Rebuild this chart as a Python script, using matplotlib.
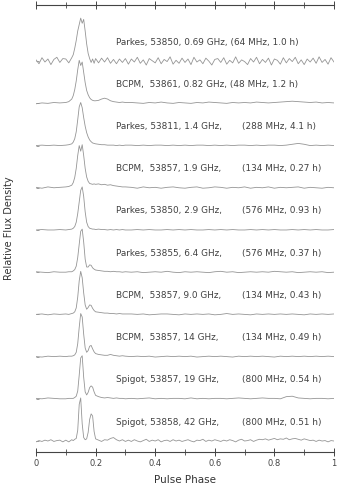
import numpy as np
import matplotlib
matplotlib.use('Agg')
import matplotlib.pyplot as plt

plt.rcParams['font.family'] = 'DejaVu Sans'

# --------------------------------------------------
# data: pulse profiles (percent of peak), top to bottom
# --------------------------------------------------
labels_left = [
    'Parkes, 53850, 0.69 GHz, (64 MHz, 1.0 h)',
    'BCPM,  53861, 0.82 GHz, (48 MHz, 1.2 h)',
    'Parkes, 53811, 1.4 GHz,',
    'BCPM,  53857, 1.9 GHz,',
    'Parkes, 53850, 2.9 GHz,',
    'Parkes, 53855, 6.4 GHz,',
    'BCPM,  53857, 9.0 GHz,',
    'BCPM,  53857, 14 GHz,',
    'Spigot, 53857, 19 GHz,',
    'Spigot, 53858, 42 GHz,',
]
labels_right = [
    '', '',
    '(288 MHz, 4.1 h)',
    '(134 MHz, 0.27 h)',
    '(576 MHz, 0.93 h)',
    '(576 MHz, 0.37 h)',
    '(134 MHz, 0.43 h)',
    '(134 MHz, 0.49 h)',
    '(800 MHz, 0.54 h)',
    '(800 MHz, 0.51 h)',
]

# phase grids
pulse_phase = [0.10, 0.11, 0.12, 0.125, 0.13, 0.135, 0.14, 0.145, 0.15, 0.155,
               0.16, 0.165, 0.17, 0.175, 0.18, 0.185, 0.19, 0.195, 0.20, 0.21,
               0.22, 0.23, 0.24, 0.25, 0.26, 0.27, 0.28, 0.29, 0.30]
fine_left = [0.00, 0.01, 0.02, 0.03, 0.04, 0.05, 0.06, 0.07, 0.08, 0.09]
fine_right = [round(0.31 + 0.01 * i, 2) for i in range(70)]
coarse_left = [0.00, 0.02, 0.04, 0.06, 0.08]
coarse_right = [round(0.32 + 0.02 * i, 2) for i in range(35)]

# 1) Parkes 0.69 GHz (noisy)
p1_left = [3, -6, 8, -2, 5, -8, 4, 9, -3, 6]
p1_pulse = [5, -4, 8, 15, 30, 48, 70, 85, 100, 88, 97, 70, 40, 18, 6, -3, 5, -5, 6, -4,
            7, -2, 8, -5, 4, -6, 5, -3, 6]
p1_right = [-7, 5, -2, 9, -5, 3, -9, 6, 1, -4, 8, -6, 4, -1, 10, -7, 2, -5, 7, -3,
            5, -8, 9, -2, 3, -6, 7, 0, -9, 4, 6, -3, 8, -7, 2, -4, 10, -5, 3, -1,
            -8, 6, -2, 9, -6, 4, -3, 7, -9, 5, 2, -7, 8, -4, 6, -1, 9, -6, 3, -8,
            5, -2, 7, -5, 10, -3, 4, -7, 8, -2]
# 2) BCPM 0.82 GHz
p2_left = [-1, 1, 0, 2, 1]
p2_pulse = [2, 4, 10, 18, 32, 52, 78, 100, 88, 96, 72, 48, 30, 20, 13, 9, 7, 6, 6, 7,
            10, 12, 10, 6, 4, 3, 2, 3, 2]
p2_right = [2, 1, 0, 2, 1, 3, 1, 0, 2, 1, 0, 2, 1, 3, 2, 1, 0, 2, 1, 2,
            1, 3, 2, 1, 2, 3, 4, 5, 4, 3, 2, 3, 1, 2, 1]
# 3) Parkes 1.4 GHz
p3_left = [0, 1, 0, 1, 0]
p3_pulse = [1, 2, 4, 8, 16, 32, 60, 90, 100, 88, 65, 45, 30, 20, 13, 9, 6, 5, 4, 3,
            2, 2, 1, 1, 1, 0, 1, 0, 1]
p3_right = [1, 0, 1, 0, 1, 1, 0, 1, 0, 1, 0, 1, 1, 0, 1, 0, 1, 0, 1, 1,
            0, 1, 0, 1, 1, 0, 1, 3, 5, 3, 0, 1, 0, 1, 0]
# 4) BCPM 1.9 GHz
p4_left = [1, -1, 2, 0, 1]
p4_pulse = [2, 3, 6, 12, 24, 45, 75, 98, 85, 100, 75, 45, 25, 15, 10, 9, 8, 9, 8, 9,
            7, 8, 6, 7, 5, 4, 3, 2, 2]
p4_right = [1, -1, 2, 0, 1, -1, 1, 2, 0, -1, 1, 2, -1, 0, 2, 1, -1, 1, 0, 2,
            -1, 1, 0, 2, -1, 1, 0, 1, 2, -1, 1, 0, -1, 1, 0]
# 5) Parkes 2.9 GHz
p5_left = [0, 1, 0, 0, 1]
p5_pulse = [0, 1, 2, 4, 8, 18, 38, 65, 92, 100, 78, 42, 18, 8, 4, 3, 2, 2, 1, 2,
            1, 1, 0, 1, 0, 1, 0, 1, 0]
p5_right = [0, 1, 0, 1, 0, 0, 1, 0, 1, 0, 1, 0, 0, 1, 0, 1, 0, 1, 0, 0,
            1, 0, 1, 0, 1, 0, 0, 1, 0, 1, 0, 1, 0, 0, 1]
# 6) Parkes 6.4 GHz
p6_left = [1, 0, -1, 1, 0]
p6_pulse = [0, 1, 1, 3, 6, 14, 34, 65, 95, 100, 70, 30, 12, 12, 17, 16, 10, 7, 5, 4,
            3, 2, 2, 1, 2, 1, 1, 0, 1]
p6_right = [0, 1, -1, 0, 1, 0, 2, 0, -1, 1, 0, 1, 0, -1, 1, 2, 0, 1, -1, 0,
            1, 0, 1, 0, 2, 1, 0, 1, -1, 0, 1, 0, 1, -1, 0]
# 7) BCPM 9.0 GHz
p7_left = [0, 1, -1, 1, 0]
p7_pulse = [1, 0, 2, 3, 6, 15, 40, 78, 100, 85, 50, 22, 12, 16, 22, 21, 14, 9, 6, 5,
            4, 3, 3, 2, 2, 1, 2, 1, 1]
p7_right = [1, 0, 1, -1, 0, 1, 1, 0, -1, 1, 0, 1, 0, 1, -1, 0, 2, 0, 1, 0,
            -1, 1, 0, 1, 0, 1, 0, 1, 0, -1, 1, 0, 1, 0, 1]
# 8) BCPM 14 GHz
p8_left = [0, -1, 1, 0, 1]
p8_pulse = [0, 1, 1, 2, 4, 10, 30, 68, 100, 92, 52, 20, 10, 14, 24, 26, 18, 11, 7, 5,
            4, 3, 3, 5, 3, 2, 1, 2, 1]
p8_right = [0, 1, 0, 1, -1, 0, 1, 0, 1, 0, 1, -1, 0, 1, 0, 1, 0, -1, 1, 0,
            1, 0, 1, 0, -1, 1, 0, 1, 0, 1, 0, 1, 0, 1, 0]
# 9) Spigot 19 GHz
p9_left = [1, 0, 2, 1, 0]
p9_pulse = [0, 1, 1, 1, 3, 6, 18, 55, 95, 100, 50, 16, 9, 15, 26, 30, 27, 16, 8, 5,
            3, 2, 3, 2, 1, 2, 1, 1, 0]
p9_right = [1, 0, 1, 2, 0, 1, 0, 1, 1, 0, 2, 0, 1, 0, 1, 1, 0, 1, 2, 1,
            0, 1, 2, 1, 1, 0, 5, 6, 2, 1, 0, 1, 1, 0, 1]
# 10) Spigot 42 GHz (noisy)
p10_left = [-2, 1, -1, 2, 0, 3, -1, 1, 2, -2]
p10_pulse = [2, -2, 3, 1, 4, 6, 25, 85, 100, 40, 8, 3, 5, 20, 50, 63, 58, 22, 5, 2,
             -1, 3, 2, 6, 8, 3, 0, 3, -1]
p10_right = [2, -1, 3, 0, -2, 1, 4, -1, 2, 0, 3, -2, 1, 2, -1, 3, 0, 2, -1, 1,
             3, 0, -2, 2, 1, 4, -1, 2, 0, 3, 1, -1, 2, 0, 3, 1, -2, 2, 4, 0,
             1, 3, -1, 2, 4, 3, 5, 2, 4, 6, 3, 5, 4, 7, 3, 5, 6, 4, 2, 5,
             3, 1, 2, -1, 2, 0, 1, -2, 1, 0]

profiles = [
    (fine_left, p1_left, p1_pulse, fine_right, p1_right),
    (coarse_left, p2_left, p2_pulse, coarse_right, p2_right),
    (coarse_left, p3_left, p3_pulse, coarse_right, p3_right),
    (coarse_left, p4_left, p4_pulse, coarse_right, p4_right),
    (coarse_left, p5_left, p5_pulse, coarse_right, p5_right),
    (coarse_left, p6_left, p6_pulse, coarse_right, p6_right),
    (coarse_left, p7_left, p7_pulse, coarse_right, p7_right),
    (coarse_left, p8_left, p8_pulse, coarse_right, p8_right),
    (coarse_left, p9_left, p9_pulse, coarse_right, p9_right),
    (fine_left, p10_left, p10_pulse, fine_right, p10_right),
]

# --------------------------------------------------
# plot
# --------------------------------------------------
fig = plt.figure(figsize=(3.54, 4.87), dpi=100)
ax = fig.add_axes([0.1017, 0.0719, 0.8418, 0.9178])

n = len(profiles)
scale = 1.02
for k, (xl, yl, yp, xr, yr) in enumerate(profiles):
    base = n - 1 - k
    x = np.array(list(xl) + pulse_phase + list(xr))
    y = np.array(list(yl) + yp + list(yr)) / 100.0 * scale + base
    ax.plot(x, y, color='#959595', lw=0.6)
    ax.text(0.27, base + 0.45, labels_left[k], fontsize=6.4, color='#404040',
            va='center', ha='left')
    if labels_right[k]:
        ax.text(0.69, base + 0.45, labels_right[k], fontsize=6.4, color='#404040',
                va='center', ha='left')

ax.set_xlim(0, 1)
ax.set_ylim(-0.26, 10.33)

for s in ['left', 'right']:
    ax.spines[s].set_visible(False)
for s in ['top', 'bottom']:
    ax.spines[s].set_color('#444444')
    ax.spines[s].set_linewidth(0.8)

ax.set_xticks([0, 0.2, 0.4, 0.6, 0.8, 1.0])
ax.set_xticklabels(['0', '0.2', '0.4', '0.6', '0.8', '1'])
ax.set_xticks(np.arange(0.1, 1.0, 0.2), minor=True)
ax.tick_params(axis='x', which='both', top=True, direction='inout',
               colors='#444444', labelsize=6, pad=2)
ax.tick_params(axis='x', which='major', length=6, width=0.7)
ax.tick_params(axis='x', which='minor', length=4, width=0.6)
ax.set_yticks(np.arange(n))
ax.set_yticklabels([])
ax.tick_params(axis='y', direction='in', length=2, width=0.5, colors='#777777')

ax.set_xlabel('Pulse Phase', fontsize=7.5, color='#333333', labelpad=5)
ax.set_ylabel('Relative Flux Density', fontsize=7, color='#333333', labelpad=12)

fig.savefig('out.png', dpi=100)
